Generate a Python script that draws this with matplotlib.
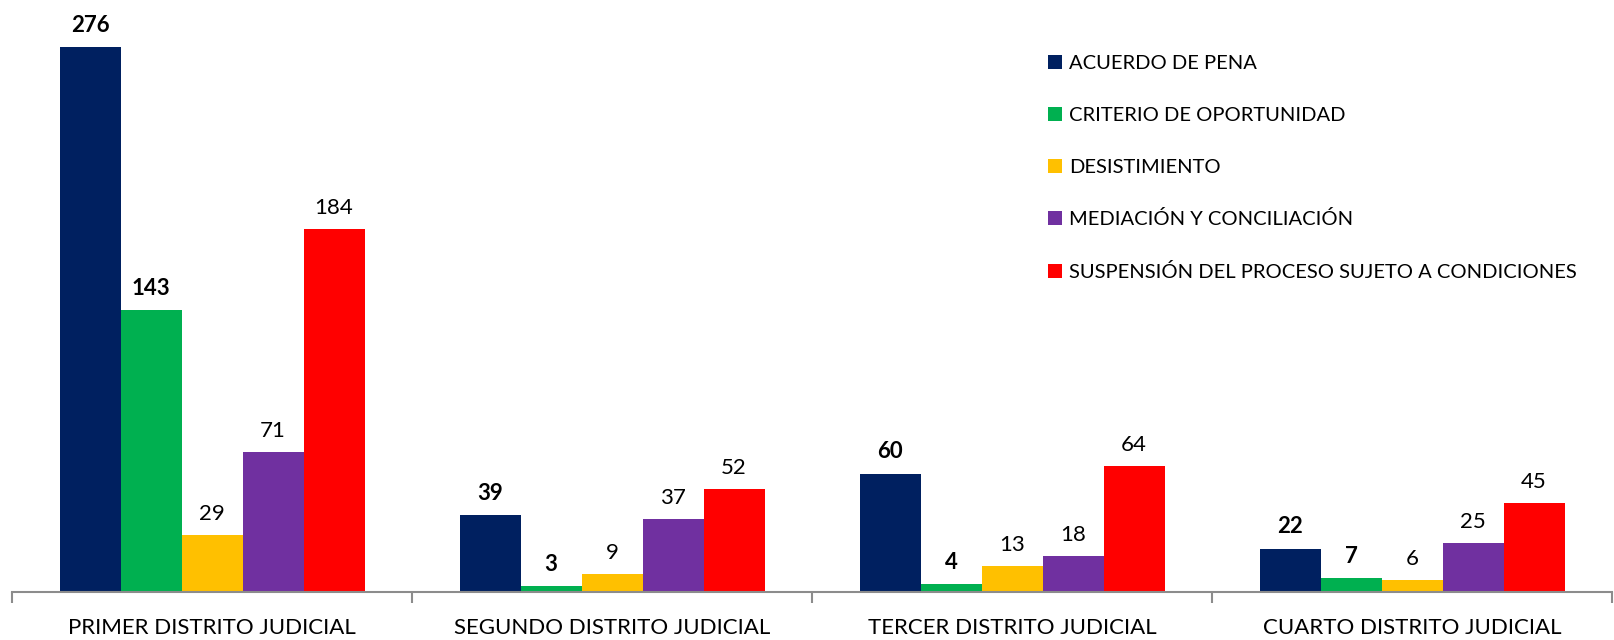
import numpy as np
import matplotlib
matplotlib.use("Agg")
from matplotlib import pyplot as plt
from matplotlib.patches import Patch

plt.rcParams['font.family'] = ['Lato', 'DejaVu Sans']

distritos = ["PRIMER DISTRITO JUDICIAL", "SEGUNDO DISTRITO JUDICIAL",
             "TERCER DISTRITO JUDICIAL", "CUARTO DISTRITO JUDICIAL"]
series = ["ACUERDO DE PENA", "CRITERIO DE OPORTUNIDAD", "DESISTIMIENTO",
          "MEDIACIÓN Y CONCILIACIÓN", "SUSPENSIÓN DEL PROCESO SUJETO A CONDICIONES"]
acuerdo = [276, 39, 60, 22]
criterio = [143, 3, 4, 7]
desistimiento = [29, 9, 13, 6]
mediacion = [71, 37, 18, 25]
suspension = [184, 52, 64, 45]
colores = ["#002060", "#00B050", "#FFC000", "#7030A0", "#FF0000"]
negrita = [True, True, False, False, False]

valores = [acuerdo, criterio, desistimiento, mediacion, suspension]

fig = plt.figure(figsize=(16.14, 6.4), dpi=100)
ax = fig.add_axes([12/1614, 48/640, 1600/1614, 592/640])

x = np.arange(len(distritos))
ancho = 0.1525
for i, (vals, col) in enumerate(zip(valores, colores)):
    pos = x + (i - 2) * ancho
    bars = ax.bar(pos, vals, width=ancho, color=col, label=series[i])
    for b, v in zip(bars, vals):
        ax.annotate(str(v), (b.get_x() + b.get_width() / 2, v),
                    xytext=(0, 8), textcoords="offset points",
                    ha="center", va="bottom", fontsize=16,
                    fontweight="bold" if negrita[i] else "normal")

ax.set_xlim(-0.5, 3.5)
ax.set_ylim(0, 300)
ax.set_yticks([])
for s in ["top", "right", "left"]:
    ax.spines[s].set_visible(False)
ax.spines["bottom"].set_color("#8c8c8c")
ax.spines["bottom"].set_linewidth(1.5)

# ticks de separacion entre grupos, etiquetas centradas
ax.set_xticks(np.arange(-0.5, 4.0, 1.0))
ax.set_xticklabels([])
ax.set_xticks(x, minor=True)
ax.set_xticklabels(distritos, minor=True, fontsize=16)
ax.tick_params(axis="x", which="major", length=8, width=1.5, color="#8c8c8c")
ax.tick_params(axis="x", which="minor", length=0, pad=19)

handles = [Patch(facecolor=c) for c in colores]
fig.legend(handles, series, loc="upper left", bbox_to_anchor=(1030/1614, 1 - 37/640),
           frameon=False, fontsize=14.5, handlelength=0.7, handleheight=0.7,
           handletextpad=0.35, labelspacing=1.72)

fig.savefig("out.png", dpi=100)
